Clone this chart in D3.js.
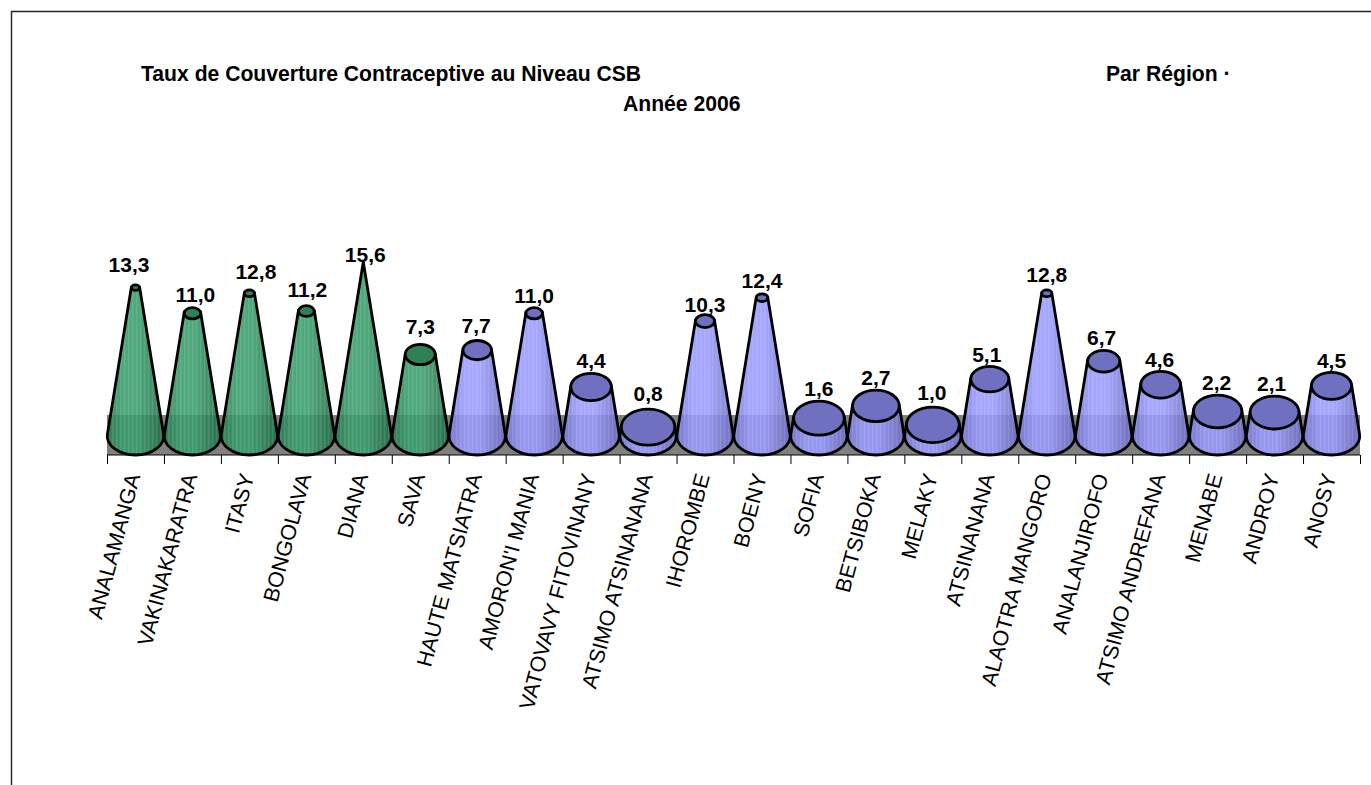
<!DOCTYPE html>
<html><head><meta charset="utf-8">
<script src="https://cdn.jsdelivr.net/npm/d3@7/dist/d3.min.js"></script>
<style>html,body{margin:0;padding:0;background:#fff;overflow:hidden}svg{display:block}text{font-family:"Liberation Sans",Arial,sans-serif;fill:#000}</style>
</head><body><svg id="c" width="1371" height="785"></svg>
<script>
const regions=["ANALAMANGA","VAKINAKARATRA","ITASY","BONGOLAVA","DIANA","SAVA","HAUTE MATSIATRA","AMORON'I MANIA","VATOVAVY FITOVINANY","ATSIMO ATSINANANA","IHOROMBE","BOENY","SOFIA","BETSIBOKA","MELAKY","ATSINANANA","ALAOTRA MANGORO","ANALANJIROFO","ATSIMO ANDREFANA","MENABE","ANDROY","ANOSY"];
const values=[13.3,11.0,12.8,11.2,15.6,7.3,7.7,11.0,4.4,0.8,10.3,12.4,1.6,2.7,1.0,5.1,12.8,6.7,4.6,2.2,2.1,4.5];
const greenCount=6;
const valueLabelDx=[-6.5,3,6.5,1,2,0,-1,0,0,0,0,0,0,0,-1,-3,0,-2,-1,-1,-3,0];
const valueLabelDy=[-9,-2,-7,-5,4,-6.5,-3.5,-1,-1,-4,1,-2,-1.5,-1,-3,0,-4,-1,-0.5,-1.5,-1,0];
const titles=[{t:"Taux de Couverture Contraceptive au Niveau CSB",x:141,y:81},{t:"Par Région ·",x:1106,y:81},{t:"Année 2006",x:623,y:111}];

const svg=d3.select("#c");
const x=d3.scaleBand().domain(regions).range([107,1360]);
const y=d3.scaleLinear().domain([0,15.6]).range([436,262]);
const radius=d3.scaleLinear().domain([0,15.6]).range([28.2,0]);
const rxToRy=19/28.2;
const wallTop=415, axisY=455;
const defs=svg.append("defs");
const grad=(id,edgeL,mid,edgeR)=>{const g=defs.append("linearGradient").attr("id",id);
 [[0,edgeL],[.28,mid],[.55,mid],[1,edgeR]].forEach(s=>g.append("stop").attr("offset",s[0]).attr("stop-color",s[1]));};
grad("gGreen","#267a4e","#389c6c","#1f6a44");
grad("gBlue","#7878d4","#9a9aff","#6c6cc0");
const stripes=defs.append("pattern").attr("id","stripes").attr("width",4).attr("height",8).attr("patternUnits","userSpaceOnUse");
stripes.append("rect").attr("width",1.4).attr("height",8).attr("fill","#fff").attr("fill-opacity",.1);

svg.append("path").attr("d","M1371,11.5H11.5V785").attr("fill","none").attr("stroke","#222").attr("stroke-width",1.4);

titles.forEach(d=>svg.append("text").attr("x",d.x).attr("y",d.y).attr("font-size",21.15).attr("font-weight","bold").text(d.t));

svg.append("rect").attr("x",107).attr("y",wallTop).attr("width",1253).attr("height",axisY-wallTop).attr("fill","#808080");
svg.append("path").attr("d",`M107,${axisY}H1360`).attr("stroke","#000").attr("stroke-width",1);
svg.selectAll("line.tick").data(x.domain().concat(["end"])).join("line").attr("class","tick")
 .attr("x1",(d,i)=>107.5+i*x.bandwidth()).attr("x2",(d,i)=>107.5+i*x.bandwidth())
 .attr("y1",axisY).attr("y2",axisY+9).attr("stroke","#000").attr("stroke-width",1);

const y0=y(0),R=radius(0),Ry=R*rxToRy,H=y0-y(15.6);
const ty=Ry*Ry/H, tx=R*Math.sqrt(1-(ty/Ry)*(ty/Ry));
const g=svg.selectAll("g.cone").data(regions.map((r,i)=>({r,v:values[i],i}))).join("g").attr("class","cone");
g.each(function(d){
 const s=d3.select(this),cx=x(d.r)+x.bandwidth()/2,yt=y(d.v),f=radius(d.v)/R,rt=radius(d.v),ryt=rt*rxToRy;
 const green=d.i<greenCount;
 const tl=[cx-tx*f,yt-ty*f],tr=[cx+tx*f,yt-ty*f];
 const bl=[cx-tx,y0-ty],br=[cx+tx,y0-ty];
 const body=`M${bl}A${R},${Ry} 0 1 0 ${br}L${tr}L${tl}Z`;
 s.append("path").attr("d",body).attr("fill",green?"url(#gGreen)":"url(#gBlue)").attr("fill-opacity",.88);
 s.append("path").attr("d",body).attr("fill","url(#stripes)")
  .attr("stroke","#000").attr("stroke-width",2.8).attr("stroke-linejoin","round");
 if(rt>0.5) s.append("ellipse").attr("cx",cx).attr("cy",yt).attr("rx",rt).attr("ry",ryt)
  .attr("fill",green?"#2e8055":"#7070c0").attr("stroke","#000").attr("stroke-width",2.8);
});
g.each(function(d){
 const s=d3.select(this),cx=x(d.r)+x.bandwidth()/2,yt=y(d.v),ryt=radius(d.v)*rxToRy;
 s.append("text").attr("x",cx+valueLabelDx[d.i]).attr("y",yt-ryt-4+valueLabelDy[d.i]).attr("text-anchor","middle")
  .attr("font-size",21).attr("font-weight","bold").text(d.v.toFixed(1).replace(".",","));
 s.append("text").attr("transform",`translate(${cx+5},476) rotate(-75)`).attr("text-anchor","end")
  .attr("font-size",21.5).text(d.r);
});
</script></body></html>
